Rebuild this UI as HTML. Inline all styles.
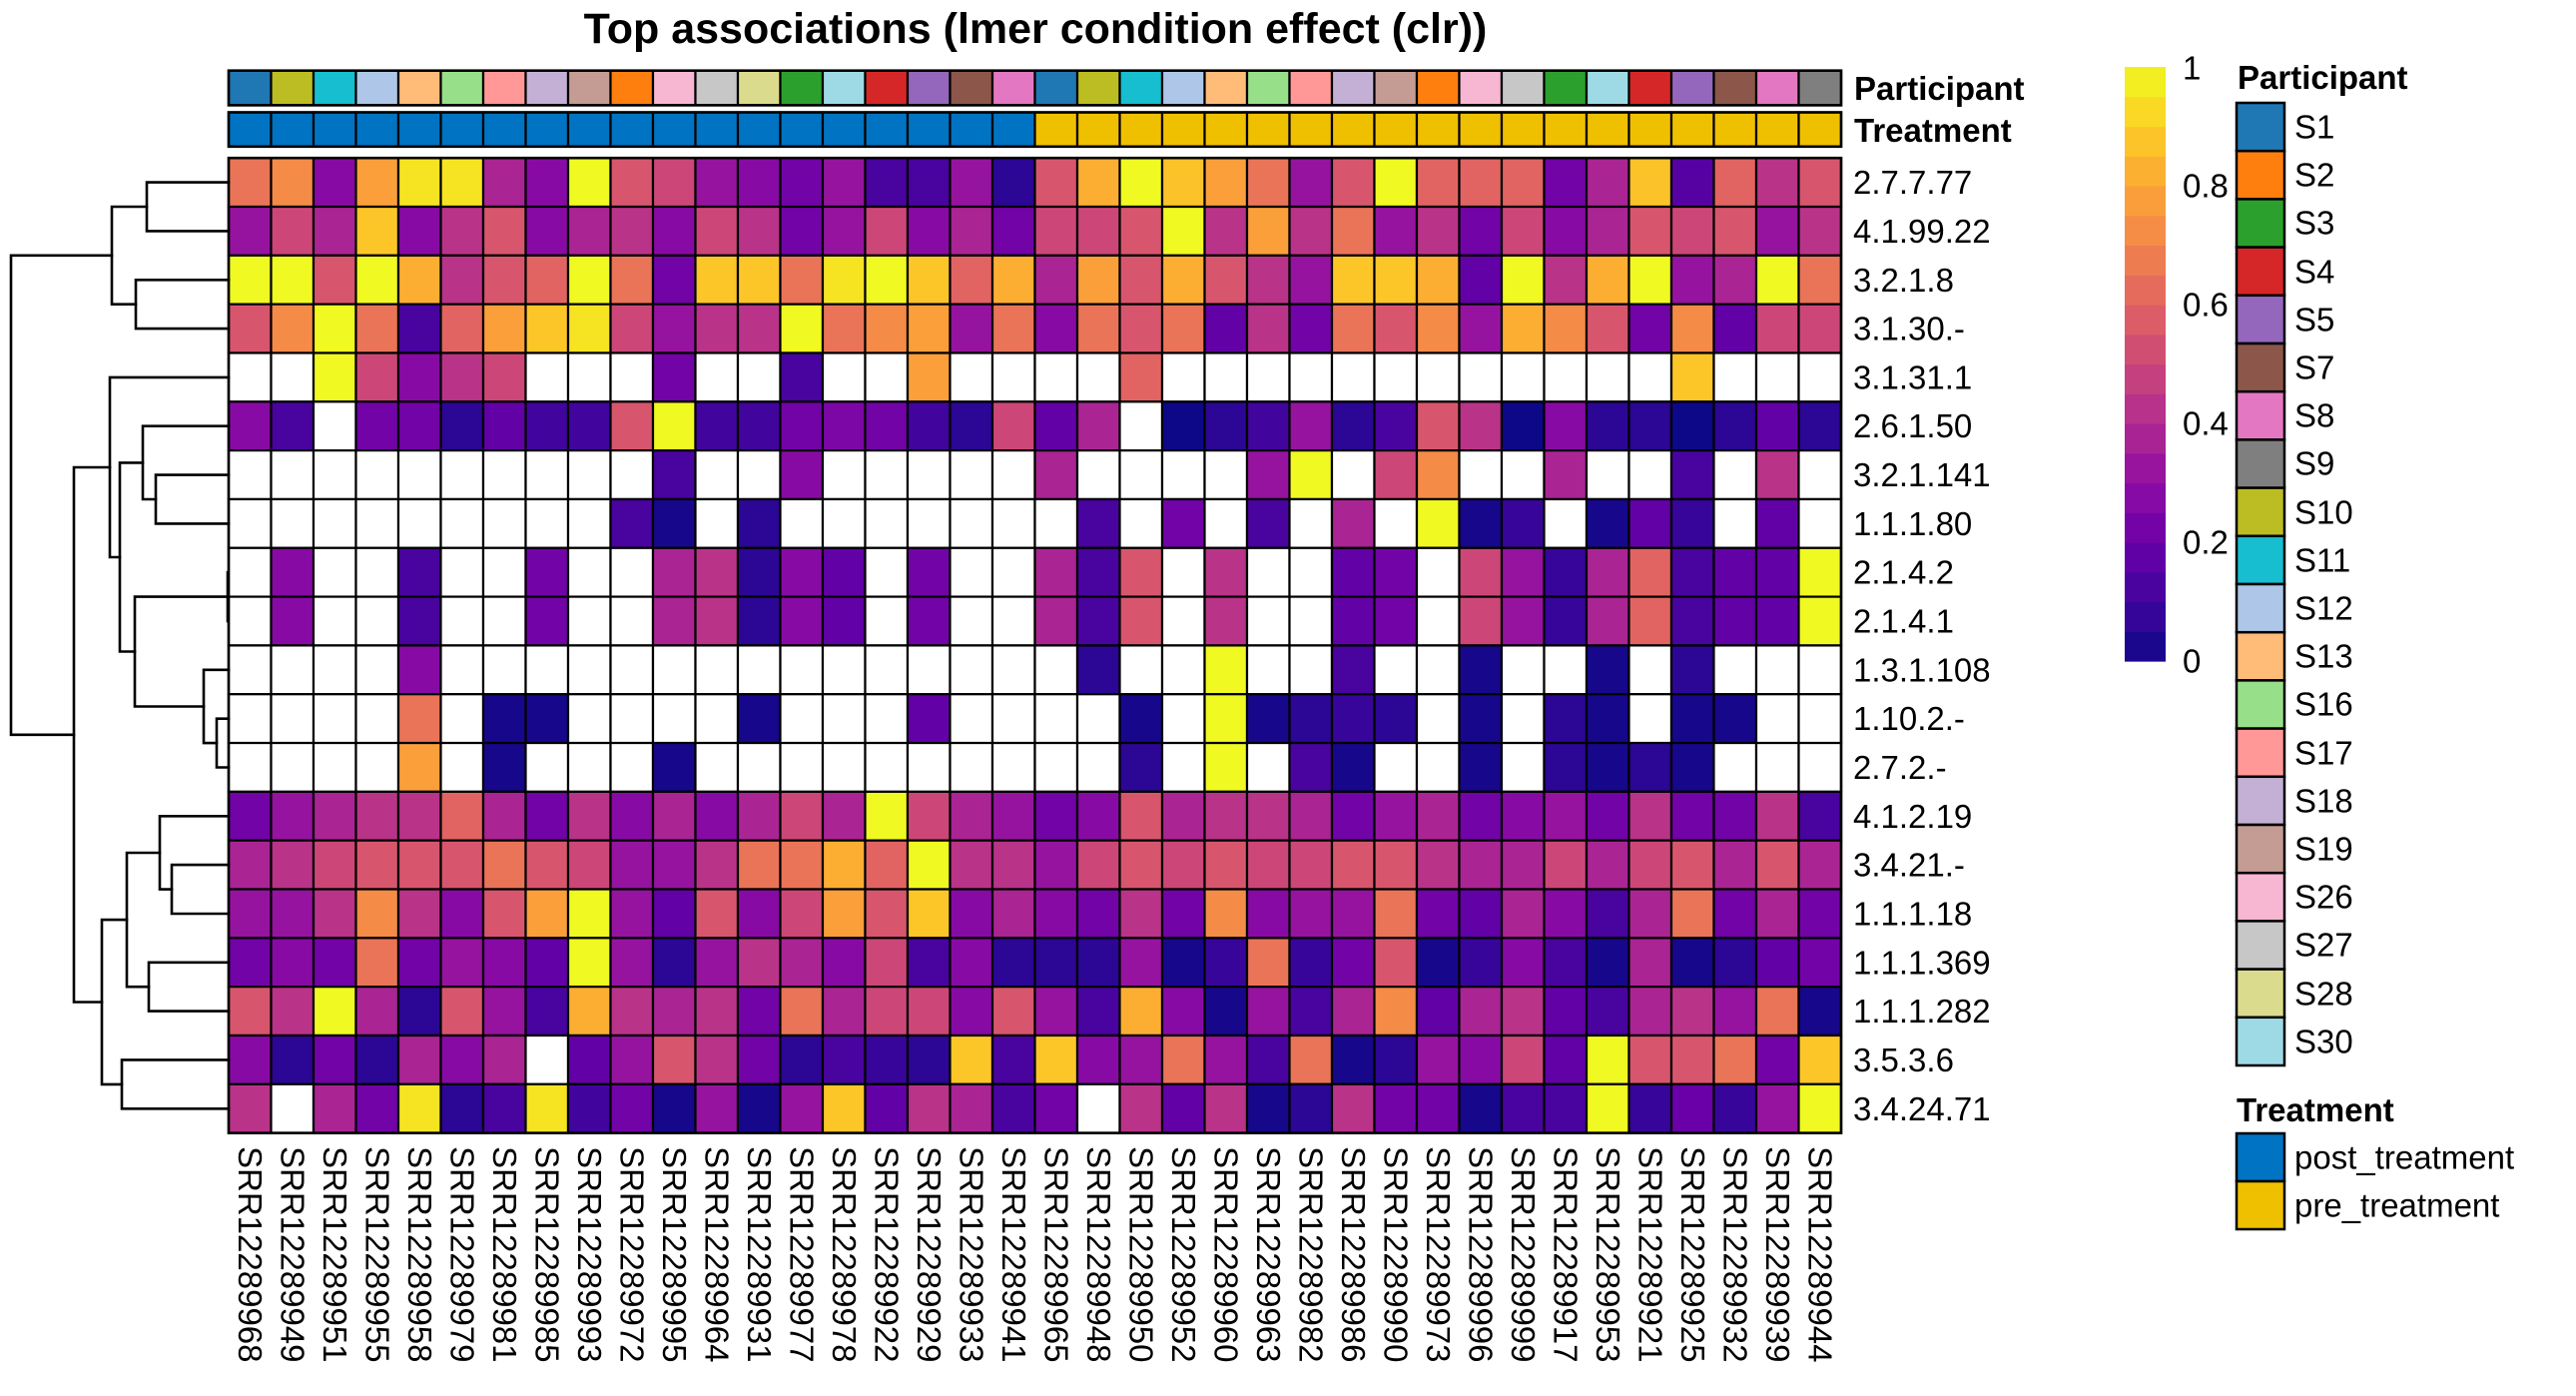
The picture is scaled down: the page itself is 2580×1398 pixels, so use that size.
<!DOCTYPE html>
<html><head><meta charset="utf-8"><style>
html,body{margin:0;padding:0;background:#fff;}
svg{display:block;}
text{font-family:"Liberation Sans",Arial,sans-serif;fill:#000;}
</style></head><body>
<svg id="s" width="2580" height="1398" viewBox="0 0 2580 1398" xmlns="http://www.w3.org/2000/svg">
<rect width="2580" height="1398" fill="#fff"/>
<text x="1037" y="43" font-size="43" font-weight="bold" text-anchor="middle">Top associations (lmer condition effect (clr))</text>
<g id="ann"></g>
<g id="cells"></g>
<g fill="none" stroke="#000" stroke-width="2.6" stroke-linecap="square">
<path d="M229 182.6 H147 V231.4 H229"/>
<path d="M229 280.3 H136 V329.1 H229"/>
<path d="M147 207 H112 V304.7 H136"/>
<path d="M229 475.6 H156 V524.4 H229"/>
<path d="M229 426.7 H143 V500 H156"/>
<path d="M228 573.2 V622"/>
<path d="M229 719.7 H217 V768.5 H229"/>
<path d="M229 670.8 H204 V744.1 H217"/>
<path d="M229 597.6 H135 V707.5 H204"/>
<path d="M143 463.4 H120 V652.5 H135"/>
<path d="M229 377.9 H110 V558 H120"/>
<path d="M229 866.1 H172 V915 H229"/>
<path d="M229 817.3 H160 V890.6 H172"/>
<path d="M229 963.8 H149 V1012.6 H229"/>
<path d="M160 854 H127 V988.2 H149"/>
<path d="M229 1061.4 H122 V1110.3 H229"/>
<path d="M127 921.1 H102 V1085.9 H122"/>
<path d="M110 468 H74 V1003.5 H102"/>
<path d="M112 255.8 H11 V735.8 H74"/>
</g>
<g font-size="33" font-weight="bold">
<text x="1857" y="100">Participant</text>
<text x="1857" y="142">Treatment</text>
</g>
<g font-size="33" dominant-baseline="central">
<text x="1856" y="182.6">2.7.7.77</text>
<text x="1856" y="231.4">4.1.99.22</text>
<text x="1856" y="280.3">3.2.1.8</text>
<text x="1856" y="329.1">3.1.30.-</text>
<text x="1856" y="377.9">3.1.31.1</text>
<text x="1856" y="426.7">2.6.1.50</text>
<text x="1856" y="475.6">3.2.1.141</text>
<text x="1856" y="524.4">1.1.1.80</text>
<text x="1856" y="573.2">2.1.4.2</text>
<text x="1856" y="622.0">2.1.4.1</text>
<text x="1856" y="670.8">1.3.1.108</text>
<text x="1856" y="719.7">1.10.2.-</text>
<text x="1856" y="768.5">2.7.2.-</text>
<text x="1856" y="817.3">4.1.2.19</text>
<text x="1856" y="866.1">3.4.21.-</text>
<text x="1856" y="915.0">1.1.1.18</text>
<text x="1856" y="963.8">1.1.1.369</text>
<text x="1856" y="1012.6">1.1.1.282</text>
<text x="1856" y="1061.4">3.5.3.6</text>
<text x="1856" y="1110.3">3.4.24.71</text>
</g>
<g font-size="33" dominant-baseline="central">
<text transform="translate(250.25,1148) rotate(90)">SRR12289968</text>
<text transform="translate(292.75,1148) rotate(90)">SRR12289949</text>
<text transform="translate(335.25,1148) rotate(90)">SRR12289951</text>
<text transform="translate(377.75,1148) rotate(90)">SRR12289955</text>
<text transform="translate(420.25,1148) rotate(90)">SRR12289958</text>
<text transform="translate(462.75,1148) rotate(90)">SRR12289979</text>
<text transform="translate(505.25,1148) rotate(90)">SRR12289981</text>
<text transform="translate(547.75,1148) rotate(90)">SRR12289985</text>
<text transform="translate(590.25,1148) rotate(90)">SRR12289993</text>
<text transform="translate(632.75,1148) rotate(90)">SRR12289972</text>
<text transform="translate(675.25,1148) rotate(90)">SRR12289995</text>
<text transform="translate(717.75,1148) rotate(90)">SRR12289964</text>
<text transform="translate(760.25,1148) rotate(90)">SRR12289931</text>
<text transform="translate(802.75,1148) rotate(90)">SRR12289977</text>
<text transform="translate(845.25,1148) rotate(90)">SRR12289978</text>
<text transform="translate(887.75,1148) rotate(90)">SRR12289922</text>
<text transform="translate(930.25,1148) rotate(90)">SRR12289929</text>
<text transform="translate(972.75,1148) rotate(90)">SRR12289933</text>
<text transform="translate(1015.25,1148) rotate(90)">SRR12289941</text>
<text transform="translate(1057.75,1148) rotate(90)">SRR12289965</text>
<text transform="translate(1100.25,1148) rotate(90)">SRR12289948</text>
<text transform="translate(1142.75,1148) rotate(90)">SRR12289950</text>
<text transform="translate(1185.25,1148) rotate(90)">SRR12289952</text>
<text transform="translate(1227.75,1148) rotate(90)">SRR12289960</text>
<text transform="translate(1270.25,1148) rotate(90)">SRR12289963</text>
<text transform="translate(1312.75,1148) rotate(90)">SRR12289982</text>
<text transform="translate(1355.25,1148) rotate(90)">SRR12289986</text>
<text transform="translate(1397.75,1148) rotate(90)">SRR12289990</text>
<text transform="translate(1440.25,1148) rotate(90)">SRR12289973</text>
<text transform="translate(1482.75,1148) rotate(90)">SRR12289996</text>
<text transform="translate(1525.25,1148) rotate(90)">SRR12289999</text>
<text transform="translate(1567.75,1148) rotate(90)">SRR12289917</text>
<text transform="translate(1610.25,1148) rotate(90)">SRR12289953</text>
<text transform="translate(1652.75,1148) rotate(90)">SRR12289921</text>
<text transform="translate(1695.25,1148) rotate(90)">SRR12289925</text>
<text transform="translate(1737.75,1148) rotate(90)">SRR12289932</text>
<text transform="translate(1780.25,1148) rotate(90)">SRR12289939</text>
<text transform="translate(1822.75,1148) rotate(90)">SRR12289944</text>
</g>
<g id="cbar"></g>
<g font-size="33" dominant-baseline="central">
<text x="2186" y="68">1</text>
<text x="2186" y="186">0.8</text>
<text x="2186" y="305">0.6</text>
<text x="2186" y="424">0.4</text>
<text x="2186" y="543">0.2</text>
<text x="2186" y="662">0</text>
</g>
<text x="2241" y="89" font-size="33" font-weight="bold">Participant</text>
<g id="pleg"></g>
<g font-size="33" dominant-baseline="central">
<text x="2298" y="127">S1</text>
<text x="2298" y="175">S2</text>
<text x="2298" y="223">S3</text>
<text x="2298" y="272">S4</text>
<text x="2298" y="320">S5</text>
<text x="2298" y="368">S7</text>
<text x="2298" y="416">S8</text>
<text x="2298" y="464">S9</text>
<text x="2298" y="513">S10</text>
<text x="2298" y="561">S11</text>
<text x="2298" y="609">S12</text>
<text x="2298" y="657">S13</text>
<text x="2298" y="705">S16</text>
<text x="2298" y="754">S17</text>
<text x="2298" y="802">S18</text>
<text x="2298" y="850">S19</text>
<text x="2298" y="898">S26</text>
<text x="2298" y="946">S27</text>
<text x="2298" y="995">S28</text>
<text x="2298" y="1043">S30</text>
</g>
<text x="2240" y="1123" font-size="33" font-weight="bold">Treatment</text>
<rect x="2240" y="1135" width="48" height="48" fill="#0073C2" stroke="#000" stroke-width="2.5"/>
<rect x="2240" y="1183" width="48" height="48" fill="#EFC000" stroke="#000" stroke-width="2.5"/>
<g font-size="33" dominant-baseline="central">
<text x="2298" y="1159">post_treatment</text>
<text x="2298" y="1207">pre_treatment</text>
</g>
</svg>
<script>
(function(){
var NS="http://www.w3.org/2000/svg";
function R(g,x,y,w,h,f,sw){var r=document.createElementNS(NS,"rect");r.setAttribute("x",x);r.setAttribute("y",y);r.setAttribute("width",w);r.setAttribute("height",h);r.setAttribute("fill",f);r.setAttribute("stroke","#000");r.setAttribute("stroke-width",sw);g.appendChild(r);}
var stops=["#0d0887","#41049d","#6a00a8","#8f0da4","#b12a90","#cc4778","#e16462","#f2844b","#fca636","#fcce25","#f0f921"];
function hx(c){return [parseInt(c.substr(1,2),16),parseInt(c.substr(3,2),16),parseInt(c.substr(5,2),16)];}
function pl(v){if(v<0)return "#ffffff";v=Math.max(0,Math.min(1,v));var t=v*10,i=Math.min(9,Math.floor(t)),f=t-i;var a=hx(stops[i]),b=hx(stops[i+1]);return "rgb("+Math.round(a[0]+(b[0]-a[0])*f)+","+Math.round(a[1]+(b[1]-a[1])*f)+","+Math.round(a[2]+(b[2]-a[2])*f)+")";}
var W=-1;
var D=[
[0.65,0.72,0.28,0.78,0.95,0.95,0.38,0.28,1,0.55,0.5,0.32,0.28,0.22,0.32,0.12,0.12,0.32,0.06, 0.55,0.82,1,0.87,0.78,0.65,0.32,0.55,1,0.6,0.6,0.6,0.22,0.38,0.87,0.15,0.6,0.43,0.55],
[0.32,0.5,0.38,0.88,0.28,0.43,0.55,0.28,0.38,0.43,0.28,0.5,0.43,0.22,0.32,0.5,0.28,0.38,0.22, 0.5,0.5,0.55,1,0.43,0.78,0.43,0.65,0.32,0.43,0.22,0.5,0.28,0.38,0.55,0.5,0.55,0.32,0.43],
[1,1,0.55,1,0.82,0.43,0.55,0.6,1,0.65,0.22,0.88,0.88,0.65,0.95,1,0.88,0.6,0.82, 0.38,0.78,0.55,0.82,0.55,0.43,0.32,0.88,0.88,0.82,0.18,1,0.43,0.82,1,0.32,0.38,1,0.65],
[0.55,0.72,1,0.65,0.12,0.6,0.78,0.88,0.95,0.5,0.32,0.43,0.43,1,0.65,0.72,0.78,0.32,0.65, 0.28,0.65,0.55,0.65,0.18,0.43,0.22,0.65,0.55,0.72,0.32,0.82,0.72,0.55,0.22,0.72,0.18,0.5,0.5],
[W,W,1,0.5,0.28,0.43,0.5,W,W,W,0.22,W,W,0.12,W,W,0.78,W,W, W,W,0.6,W,W,W,W,W,W,W,W,W,W,W,W,0.88,W,W,W],
[0.28,0.12,W,0.22,0.22,0.06,0.18,0.1,0.1,0.55,1,0.1,0.1,0.22,0.25,0.22,0.1,0.06,0.5, 0.18,0.38,W,0,0.06,0.1,0.32,0.06,0.12,0.55,0.43,0,0.28,0.06,0.06,0,0.06,0.18,0.06],
[W,W,W,W,W,W,W,W,W,W,0.12,W,W,0.28,W,W,W,W,W, 0.38,W,W,W,W,0.32,1,W,0.5,0.72,W,W,0.38,W,W,0.12,W,0.43,W],
[W,W,W,W,W,W,W,W,W,0.12,0.02,W,0.06,W,W,W,W,W,W, W,0.12,W,0.22,W,0.12,W,0.38,W,1,0.02,0.08,W,0.02,0.18,0.08,W,0.18,W],
[W,0.28,W,W,0.12,W,W,0.22,W,W,0.38,0.43,0.06,0.28,0.18,W,0.22,W,W, 0.38,0.12,0.55,W,0.43,W,W,0.18,0.22,W,0.5,0.32,0.08,0.38,0.6,0.12,0.18,0.18,1],
[W,0.28,W,W,0.12,W,W,0.22,W,W,0.38,0.43,0.06,0.28,0.18,W,0.22,W,W, 0.38,0.12,0.55,W,0.43,W,W,0.18,0.22,W,0.5,0.32,0.08,0.38,0.6,0.12,0.18,0.18,1],
[W,W,W,W,0.28,W,W,W,W,W,W,W,W,W,W,W,W,W,W, W,0.06,W,W,1,W,W,0.12,W,W,0.02,W,W,0.02,W,0.06,W,W,W],
[W,W,W,W,0.65,W,0.02,0.02,W,W,W,W,0.02,W,W,W,0.18,W,W, W,W,0.02,W,1,0.02,0.06,0.08,0.06,W,0.02,W,0.06,0.02,W,0.02,0.02,W,W],
[W,W,W,W,0.78,W,0.02,W,W,W,0.02,W,W,W,W,W,W,W,W, W,W,0.06,W,1,W,0.12,0.02,W,W,0.02,W,0.06,0.02,0.06,0.02,W,W,W],
[0.22,0.32,0.38,0.43,0.43,0.6,0.38,0.22,0.43,0.28,0.38,0.28,0.38,0.5,0.38,1,0.5,0.38,0.32, 0.22,0.28,0.55,0.38,0.43,0.43,0.38,0.22,0.32,0.38,0.22,0.28,0.32,0.22,0.43,0.22,0.22,0.43,0.12],
[0.38,0.43,0.5,0.55,0.55,0.55,0.65,0.55,0.5,0.32,0.32,0.43,0.65,0.65,0.82,0.6,1,0.43,0.43, 0.32,0.5,0.55,0.5,0.55,0.5,0.5,0.55,0.55,0.43,0.38,0.38,0.5,0.38,0.5,0.55,0.38,0.55,0.38],
[0.32,0.32,0.43,0.72,0.43,0.28,0.55,0.78,1,0.32,0.18,0.55,0.28,0.5,0.78,0.55,0.88,0.28,0.38, 0.28,0.22,0.43,0.22,0.72,0.28,0.32,0.32,0.65,0.22,0.18,0.38,0.28,0.12,0.38,0.65,0.22,0.38,0.22],
[0.22,0.28,0.22,0.65,0.22,0.32,0.28,0.18,1,0.32,0.06,0.32,0.43,0.38,0.28,0.5,0.12,0.28,0.06, 0.06,0.06,0.32,0.02,0.08,0.65,0.08,0.22,0.55,0.02,0.08,0.28,0.12,0.02,0.38,0.02,0.06,0.18,0.22],
[0.55,0.43,1,0.38,0.06,0.55,0.32,0.12,0.82,0.43,0.38,0.43,0.22,0.65,0.38,0.5,0.5,0.28,0.55, 0.32,0.12,0.82,0.28,0.02,0.32,0.12,0.38,0.72,0.18,0.38,0.43,0.18,0.12,0.38,0.43,0.32,0.65,0.02],
[0.28,0.06,0.22,0.06,0.38,0.28,0.38,W,0.18,0.32,0.55,0.43,0.22,0.06,0.12,0.08,0.06,0.88,0.12, 0.88,0.28,0.32,0.65,0.32,0.12,0.65,0.02,0.06,0.32,0.28,0.5,0.18,1,0.55,0.55,0.65,0.22,0.88],
[0.43,W,0.38,0.22,0.95,0.06,0.12,0.95,0.1,0.22,0.02,0.32,0.02,0.32,0.88,0.18,0.43,0.38,0.12, 0.22,W,0.43,0.18,0.43,0.02,0.06,0.43,0.22,0.22,0.02,0.12,0.12,1,0.08,0.2,0.08,0.32,1]
];
var X0=229,CW=42.5,Y0=158.2,RH=48.82;
var g=document.getElementById("cells");
for(var r=0;r<20;r++)for(var c=0;c<38;c++)R(g,X0+c*CW,Y0+r*RH,CW,RH,pl(D[r][c]),2.2);
R(g,X0,Y0,38*CW,20*RH,"none",2.6);
var P={S1:"#1f77b4",S2:"#ff7f0e",S3:"#2ca02c",S4:"#d62728",S5:"#9467bd",S7:"#8c564b",S8:"#e377c2",S9:"#7f7f7f",S10:"#bcbd22",S11:"#17becf",S12:"#aec7e8",S13:"#ffbb78",S16:"#98df8a",S17:"#ff9896",S18:"#c5b0d5",S19:"#c49c94",S26:"#f7b6d2",S27:"#c7c7c7",S28:"#dbdb8d",S30:"#9edae5"};
var cols=["S1","S10","S11","S12","S13","S16","S17","S18","S19","S2","S26","S27","S28","S3","S30","S4","S5","S7","S8","S1","S10","S11","S12","S13","S16","S17","S18","S19","S2","S26","S27","S3","S30","S4","S5","S7","S8","S9"];
var a=document.getElementById("ann");
for(var c=0;c<38;c++){R(a,X0+c*CW,70.7,CW,34.7,P[cols[c]],2.2);R(a,X0+c*CW,112.5,CW,34.3,c<19?"#0073C2":"#EFC000",2.2);}
R(a,X0,70.7,38*CW,34.7,"none",2.6);R(a,X0,112.5,38*CW,34.3,"none",2.6);
var cb=document.getElementById("cbar");
for(var i=0;i<20;i++){var r2=document.createElementNS(NS,"rect");var h=595/20;r2.setAttribute("x",2128);r2.setAttribute("y",662-(i+1)*h);r2.setAttribute("width",41);r2.setAttribute("height",h+0.6);r2.setAttribute("fill",pl((i+0.5)/20));cb.appendChild(r2);}
var order=["S1","S2","S3","S4","S5","S7","S8","S9","S10","S11","S12","S13","S16","S17","S18","S19","S26","S27","S28","S30"];
var pg=document.getElementById("pleg");
for(var i=0;i<20;i++)R(pg,2240,103+i*48.2,48,48.2,P[order[i]],2.5);
})();
</script>
</body></html>
